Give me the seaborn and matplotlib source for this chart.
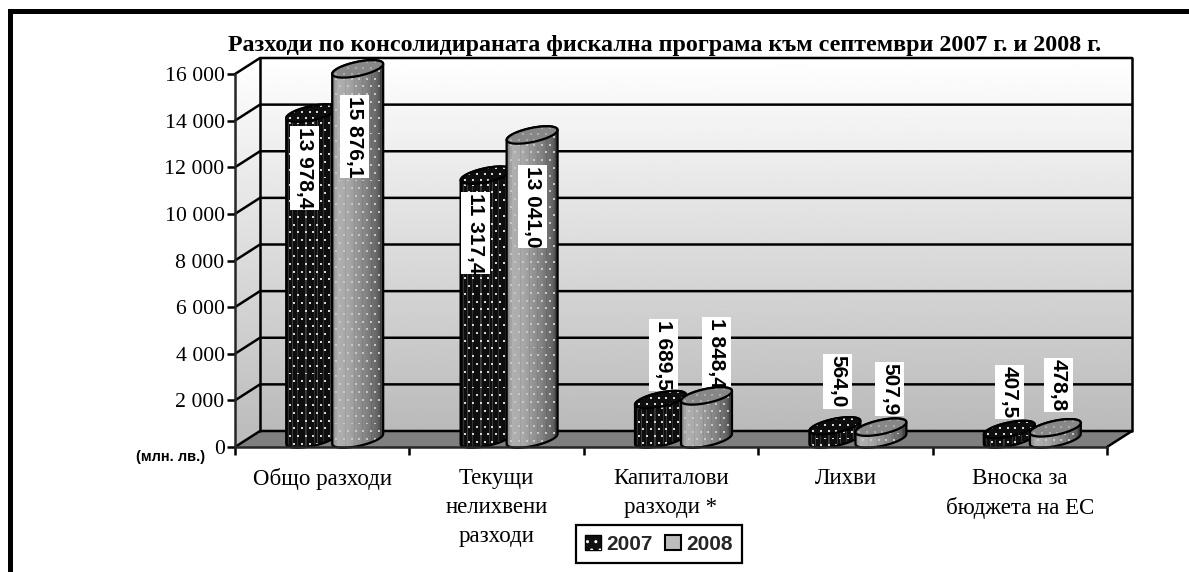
import numpy as np
import pandas as pd
import seaborn as sns
import matplotlib.pyplot as plt
from matplotlib.legend_handler import HandlerTuple
from matplotlib.patches import Patch, PathPatch, Polygon, Rectangle
from matplotlib.path import Path
from matplotlib.transforms import IdentityTransform

categories = ["Общо разходи", "Текущи\nнелихвени\nразходи", "Капиталови\nразходи *", "Лихви", "Вноска за\nбюджета на ЕС"]
years = ["2007", "2008"]
values_2007 = [13978.4, 11317.4, 1689.5, 564.0, 407.5]
values_2008 = [15876.1, 13041.0, 1848.4, 507.9, 478.8]
y_ticks = [0, 2000, 4000, 6000, 8000, 10000, 12000, 14000, 16000]
y_tick_labels = ["0", "2 000", "4 000", "6 000", "8 000", "10 000", "12 000", "14 000", "16 000"]
title = "Разходи по консолидираната фискална програма към септември 2007 г. и 2008 г."
unit = "(млн. лв.)"

# where each value label sits, pixels from the centre of the bar top
label_dx = [[-7, -10.6, 3, 2.6, 0], [-3, 0, 10, 9, 3]]
label_dy = [[55, 58, -44.6, -44.5, -37.5], [67.5, 71.5, -42.5, -38, -43]]

W, H = 1189, 572
X0, Y0 = 322.2, 447    # pixel of category 0 and of value 0
XS = 174.4             # pixels per category
YS = 373 / 16000       # pixels per unit of value
DEPTH_X, DEPTH_Y = 25, 16
BAR_W, BAR_STEP = 52, 46
ELL_B, TILT = 7.0, np.radians(12)
LW = 1.8
SERIF = "Liberation Serif"
SANS = "Liberation Sans"


def shift(c, v, dx, dy):
    return c + dx / XS, v + dy / YS


def ell_points(c, v, a, t):
    x = a * np.cos(t) * np.cos(TILT) - ELL_B * np.sin(t) * np.sin(TILT)
    y = a * np.cos(t) * np.sin(TILT) + ELL_B * np.sin(t) * np.cos(TILT)
    return np.column_stack(shift(c, v, x, y))


def dotted(base, rows, dot, step=8):
    img = np.tile(np.asarray(base, dtype=float), (rows, 1))
    cols = img.shape[1]
    for j, r in enumerate(range(2, rows - 1, step)):
        for i in range(3 + (j % 2) * 4, cols - 1, step):
            img[r:r + 2, i:i + 2] = dot
    return img


def body_base(kind, cols):
    pos = np.linspace(0, 1, cols)
    if kind == 0:
        base = np.full(cols, 14.0)
        base[2::9] = 50
        base[6::13] = 62
    else:
        base = np.interp(pos, [0, 0.08, 0.3, 0.65, 0.9, 1], [125, 176, 168, 135, 100, 62])
        base[4::9] -= 12
    return base


def textured(ax, verts, img, zorder, outline=True):
    x0, y0 = verts.min(axis=0)
    x1, y1 = verts.max(axis=0)
    im = ax.imshow(img, extent=(x0, x1, y0, y1), aspect="auto", cmap="gray", vmin=0, vmax=255,
                   interpolation="nearest", zorder=zorder)
    shape = PathPatch(Path(verts, closed=False), fc="none", ec="black" if outline else "none", lw=LW * 0.9,
                      zorder=zorder + 0.1, joinstyle="round")
    ax.add_patch(shape)
    im.set_clip_path(shape)
    return shape


sns.set_theme(style="white")
plt.rcParams["font.family"] = [SERIF, "DejaVu Serif"]

df = pd.DataFrame({
    "category": categories * 2,
    "year": [years[0]] * 5 + [years[1]] * 5,
    "value": values_2007 + values_2008,
})

fig = plt.figure(figsize=(W / 100, H / 100), dpi=100, facecolor="white")
ax = fig.add_axes([0, 0, 1, 1])
ax.patch.set_visible(False)

sns.barplot(data=df, x="category", y="value", hue="year", order=categories, hue_order=years,
            palette=["#111111", "#999999"], width=2 * BAR_STEP / XS, gap=0, errorbar=None,
            legend=False, saturation=1, ax=ax, zorder=6)

# walls and floor
back_l, back_0 = shift(-0.5, 0, DEPTH_X, DEPTH_Y)
back_r, back_top = shift(4.5, 16000, DEPTH_X, DEPTH_Y)
grad = np.linspace(255, 186, 256)[:, None]
wall = ax.imshow(grad, extent=(back_l, back_r, back_0, back_top), aspect="auto", cmap="gray", vmin=0, vmax=255, zorder=0)
side_pts = [(-0.5, 0), (-0.5, 16000), (back_l, back_top), (back_l, back_0)]
side_bg = ax.imshow(grad, extent=(-0.5, back_l, 0, back_top), aspect="auto", cmap="gray", vmin=0, vmax=255, zorder=0)
side = Polygon(side_pts, closed=True, fc="none", ec="none", zorder=0)
ax.add_patch(side)
side_bg.set_clip_path(side)
ax.add_patch(Polygon([(-0.5, 0), (4.5, 0), (back_r, back_0), (back_l, back_0)], closed=True, fc="#7f7f7f", ec="none", zorder=1))

for v in y_ticks:
    _, vb = shift(0, v, DEPTH_X, DEPTH_Y)
    ax.plot([-0.5, back_l, back_r], [v, vb, vb], color="black", lw=LW, zorder=2, solid_joinstyle="miter")
ax.plot([back_l, back_l], [back_0, back_top], color="black", lw=LW, zorder=2)
ax.plot([back_r, back_r], [back_0, back_top], color="black", lw=LW, zorder=2)
ax.plot([4.5, back_r], [0, back_0], color="black", lw=LW, zorder=2)

# cylinders, built on the bars seaborn placed
tops = []
for kind, cont in enumerate(ax.containers):
    row = []
    for patch, val in zip(cont.patches, [values_2007, values_2008][kind]):
        c = patch.get_x() + patch.get_width() / 2 + DEPTH_X / 2 / XS
        w = BAR_W / XS
        patch.set_x(c - w / 2)
        patch.set_width(w)
        patch.set_y(DEPTH_Y / 2 / YS)
        patch.set_height(val)
        bottom = patch.get_y()
        top = bottom + patch.get_height()
        a = BAR_W / 2
        t0 = -np.arctan(ELL_B / a * np.tan(TILT))
        low = ell_points(c, bottom, a, np.linspace(np.pi + t0, 2 * np.pi + t0, 40))
        up = ell_points(c, top, a, np.linspace(t0, np.pi + t0, 40))
        verts = np.vstack([low, up, low[:1]])
        z = 6 + kind * 2
        rows = int((val * YS) + 2 * ELL_B + 12)
        body = textured(ax, verts, dotted(body_base(kind, BAR_W), rows, 215 if kind == 0 else 198), z)
        patch.set_zorder(z - 0.5)
        patch.set_clip_path(body)
        ring = ell_points(c, top, a, np.linspace(0, 2 * np.pi, 60))
        textured(ax, ring, dotted(np.full(BAR_W, 14.0 if kind == 0 else 135.0), 24, 215 if kind == 0 else 170), z + 0.5)
        row.append((c, top))
    tops.append(row)

# axes
ax.set_xlim(-X0 / XS, (W - X0) / XS)
ax.set_ylim((Y0 - H) / YS, Y0 / YS)
for s in ["top", "right"]:
    ax.spines[s].set_visible(False)
ax.spines["left"].set_position(("data", -0.5))
ax.spines["left"].set_bounds(0, 16000)
ax.spines["bottom"].set_position(("data", 0))
ax.spines["bottom"].set_bounds(-0.5, 4.5)
ax.spines["left"].set_linewidth(LW)
ax.spines["bottom"].set_linewidth(LW)
ax.spines["left"].set_zorder(15)
ax.spines["bottom"].set_zorder(15)
ax.set_yticks(y_ticks, y_tick_labels)
ax.set_xticks(np.arange(-0.5, 5), [""] * 6)
ax.set_xticks(range(5), categories, minor=True)
ax.tick_params(axis="y", left=True, length=6, width=LW, pad=1.5, labelsize=15.7, colors="black")
ax.tick_params(axis="x", which="major", bottom=True, length=6, width=LW, color="black")
ax.tick_params(axis="x", which="minor", bottom=False, length=0, pad=15, labelsize=16.5, labelcolor="black")
for t in ax.get_xminorticklabels():
    t.set_linespacing(1.5)
ax.set_xlabel("")
ax.set_ylabel("")

# value labels: white strip a bit wider than the text, as in the original
renderer = fig.canvas.get_renderer()
for kind, row in enumerate(tops):
    vals = [values_2007, values_2008][kind]
    for i, (c, top) in enumerate(row):
        lx, ly = shift(c, top, label_dx[kind][i], -label_dy[kind][i])
        text = f"{vals[i]:,.1f}".replace(",", " ").replace(".", ",")
        z = 20 if i < 2 else 5
        lab = ax.text(lx, ly, text, rotation=-90, ha="center", va="center", family=SANS, weight="bold", fontsize=15,
                      color="black", zorder=z)
        bb = lab.get_window_extent(renderer)
        mid = (bb.x0 + bb.x1) / 2
        fig_rect = Rectangle((mid - 14.5, bb.y0 - 1), 29, bb.height + 2, transform=IdentityTransform(), fc="white", ec="none", zorder=z - 0.1)
        ax.add_patch(fig_rect)

x_u, y_u = shift(-0.5, 0, -30, -9.5)
ax.text(x_u, y_u, unit, ha="right", va="center", family=SANS, weight="bold", fontsize=10.5, color="black")
fig.text(665 / W, 1 - 51 / H, title, ha="center", va="baseline", family=SERIF, weight="bold", fontsize=17.3, color="black")

# outer frame
fig.add_artist(Rectangle((8, 0), 5, H - 9, transform=IdentityTransform(), fc="black", ec="none"))
fig.add_artist(Rectangle((8, H - 14), W - 8, 5, transform=IdentityTransform(), fc="black", ec="none"))

handles = [
    (Patch(fc="#111111", ec="black"), Patch(fill=False, ec="white", hatch="..", lw=0)),
    (Patch(fc="#bdbdbd", ec="black", lw=1.5),),
]
leg = ax.legend(handles, years, ncol=2, loc="center", bbox_to_anchor=(659, H - 544), bbox_transform=IdentityTransform(),
                handler_map={tuple: HandlerTuple(ndivide=1, pad=0)}, prop=dict(family=SANS, weight="bold", size=15),
                frameon=True, fancybox=False, framealpha=1, edgecolor="black", handlelength=0.75, handleheight=0.75,
                handletextpad=0.25, columnspacing=0.6, borderpad=0.45, borderaxespad=0)
leg.get_frame().set_linewidth(1.6)
leg.set_zorder(25)

fig.savefig("out.png", dpi=100, facecolor="white")
